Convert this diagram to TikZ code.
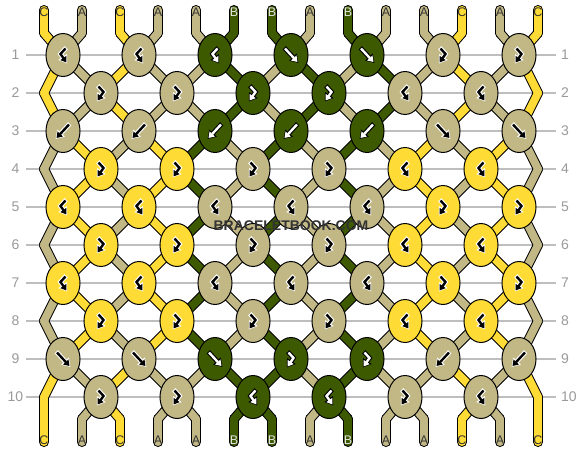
\documentclass[tikz,border=0pt]{standalone}
\usepackage{fontspec}
\setmainfont{Liberation Sans}
\usetikzlibrary{arrows.meta, shapes.geometric}

\definecolor{colA}{HTML}{C2B886}
\definecolor{colB}{HTML}{3D5A00}
\definecolor{colC}{HTML}{FFDC35}
\colorlet{inkA}{black}\colorlet{rimA}{white}
\colorlet{inkB}{white}\colorlet{rimB}{black}
\colorlet{inkC}{black}\colorlet{rimC}{white}
\colorlet{tagA}{black!80}\colorlet{tagB}{white!90!black}\colorlet{tagC}{black!80}
\definecolor{rulegray}{HTML}{BEBEBE}
\definecolor{rownum}{HTML}{9A9A9A}

\pgfdeclarelayer{grid}
\pgfdeclarelayer{outline}
\pgfdeclarelayer{inside}
\pgfsetlayers{grid,outline,inside,main}

% one piece of thread: black rim first, colour over it
\newcommand\strand[2]{%
  \begin{pgfonlayer}{outline}\draw[line width=10pt, line cap=round, line join=round, black] #2;\end{pgfonlayer}%
  \begin{pgfonlayer}{inside}\draw[line width=8pt, line cap=round, line join=round, col#1] #2;\end{pgfonlayer}}

% knot arrows
\newcommand\arrf{(-6,-6.5) -- (6.5,7)}
\newcommand\arrb{(6,-6.5) -- (-6.5,7)}
\newcommand\arrfb{(-2.5,-6.5) -- (2.5,-1) -- (-3.5,7.5)}
\newcommand\arrbf{(2.5,-6.5) -- (-2.5,-1) -- (3.5,7.5)}

\tikzset{
  knot/.style={ellipse, draw=black, line width=1pt, fill=col#1,
    minimum width=34pt, minimum height=43pt, inner sep=0pt},
  rim/.style={color=rim#1, line width=4.6pt, line join=miter,
    shorten <=-1pt, shorten >=-1.3pt, -{Triangle[length=8pt,width=10pt]}},
  ink/.style={color=ink#1, line width=2.4pt, line join=miter,
    -{Triangle[length=5.5pt,width=7pt]}},
  tag/.style={font=\fontsize{12.5}{13}\selectfont, text=tag#1, inner sep=0pt},
  rowno/.style={font=\fontsize{14}{16}\selectfont, text=rownum, inner sep=0pt},
  rowline/.style={draw=rulegray, line width=1.3pt}
}

\begin{document}
\begin{tikzpicture}[x=1pt, y=-1pt]
\useasboundingbox (0,0) rectangle (582,452);
\begin{pgfonlayer}{grid}
  \fill[white] (0,0) rectangle (582,452);
\end{pgfonlayer}

% row rules and numbers
\foreach \r in {1,...,10} {
  \pgfmathsetmacro\y{55+38*(\r-1)}
  \coordinate (gl\r) at (26,\y);
  \coordinate (gr\r) at (556,\y);
  \begin{pgfonlayer}{grid}\draw[rowline] (gl\r) -- (gr\r);\end{pgfonlayer}
  \node[rowno] (nl\r) at (15.5,\y) {\r};
  \node[rowno, anchor=west] (nr\r) at (561,\y) {\r};
}

% ends of the threads
\foreach \i in {1,...,14} {
  \pgfmathsetmacro\x{44+38*(\i-1)}
  \coordinate (t\i) at (\x,10);
  \coordinate (p0-\i) at (\x,33);
  \coordinate (p11-\i) at (\x,419);
  \coordinate (e\i) at (\x,442);
}

% knots: colour/kind per row
\foreach \r/\row in {
  1/{A/bf,A/bf,B/bf,B/f,B/f,A/fb,A/fb},
  2/{A/fb,A/fb,B/fb,B/fb,A/bf,A/bf},
  3/{A/b,A/b,B/b,B/b,B/b,A/f,A/f},
  4/{C/fb,C/fb,A/fb,A/fb,C/bf,C/bf},
  5/{C/bf,C/bf,A/bf,A/bf,A/bf,C/fb,C/fb},
  6/{C/fb,C/fb,A/fb,A/fb,C/bf,C/bf},
  7/{C/bf,C/bf,A/bf,A/bf,A/bf,C/fb,C/fb},
  8/{C/fb,C/fb,A/fb,A/fb,C/bf,C/bf},
  9/{A/f,A/f,B/f,B/fb,B/fb,A/b,A/b},
  10/{A/fb,A/fb,B/bf,B/bf,A/fb,A/bf}} {
  \pgfmathtruncatemacro\odd{mod(\r,2)}
  \pgfmathsetmacro\y{55+38*(\r-1)}
  \foreach \hue/\kind [count=\j] in \row {
    \pgfmathsetmacro\x{\odd==1 ? 63+76*(\j-1) : 101+76*(\j-1)}
    \pgfmathtruncatemacro\lft{\odd==1 ? 2*\j-1 : 2*\j}
    \pgfmathtruncatemacro\rgt{\lft+1}
    \node[knot=\hue] (k\r-\j) at (\x,\y) {};
    \coordinate (p\r-\lft) at (k\r-\j.center);
    \coordinate (p\r-\rgt) at (k\r-\j.center);
    \expandafter\let\expandafter\arr\csname arr\kind\endcsname
    \draw[rim=\hue, shift={(k\r-\j.center)}] \arr;
    \draw[ink=\hue, shift={(k\r-\j.center)}] \arr;
  }
  \ifnum\odd=0
    \coordinate (p\r-1) at (44,\y);
    \coordinate (p\r-14) at (538,\y);
  \fi
}

% threads between rows, colours after each row
\foreach \r/\state in {
  0/{C,A,C,A,A,B,B,A,B,A,A,C,A,C},
  1/{C,A,C,A,A,B,A,B,A,B,A,C,A,C},
  2/{C,A,C,A,A,B,A,B,A,B,A,C,A,C},
  3/{A,C,A,C,B,A,B,A,B,A,C,A,C,A},
  4/{A,C,A,C,B,A,B,A,B,A,C,A,C,A},
  5/{A,C,A,C,B,A,B,A,B,A,C,A,C,A},
  6/{A,C,A,C,B,A,B,A,B,A,C,A,C,A},
  7/{A,C,A,C,B,A,B,A,B,A,C,A,C,A},
  8/{A,C,A,C,B,A,B,A,B,A,C,A,C,A},
  9/{C,A,C,A,A,B,B,A,B,A,A,C,A,C},
  10/{C,A,C,A,A,B,B,A,B,A,A,C,A,C}} {
  \pgfmathtruncatemacro\nxt{\r+1}
  \foreach \hue [count=\i] in \state {
    \strand{\hue}{(p\r-\i) -- (p\nxt-\i)}
  }
}

% loose ends with their letters
\foreach \hue [count=\i] in {C,A,C,A,A,B,B,A,B,A,A,C,A,C} {
  \strand{\hue}{(t\i) -- (p0-\i)}
  \strand{\hue}{(p11-\i) -- (e\i)}
  \node[tag=\hue] (top\i) at ([yshift=-2.5pt]t\i) {\hue};
  \node[tag=\hue] (bot\i) at ([yshift=1.5pt]e\i) {\hue};
}

% watermark
\node[font=\bfseries\fontsize{14}{16}\selectfont, text=black!80] (mark) at (291,226) {BRACELETBOOK.COM};
\end{tikzpicture}
\end{document}
